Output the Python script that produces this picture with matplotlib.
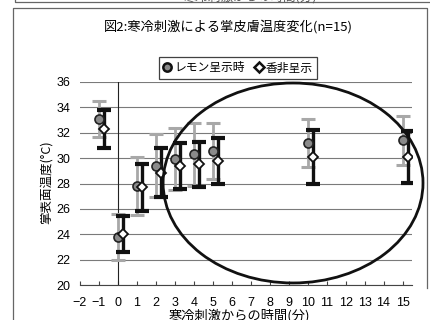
import matplotlib
matplotlib.use("Agg")
import matplotlib.pyplot as plt
from matplotlib.lines import Line2D
from matplotlib.patches import Ellipse

plt.rcParams['font.family'] = ['Noto Sans CJK JP', 'DejaVu Sans']

# minutes after cold stimulus
minutes = [-1, 0, 1, 2, 3, 4, 5, 10, 15]

# palm skin temperature, mean and SD
lemon_mean = [33.1, 23.8, 27.8, 29.4, 29.9, 30.3, 30.55, 31.2, 31.4]
lemon_sd = [1.4, 1.8, 2.3, 2.5, 2.45, 2.5, 2.2, 1.9, 1.95]
none_mean = [32.3, 24.0, 27.7, 28.85, 29.4, 29.5, 29.8, 30.1, 30.1]
none_sd = [1.5, 1.4, 1.85, 1.95, 1.8, 1.8, 1.8, 2.1, 2.05]

title = "図2:寒冷刺激による掌皮膚温度変化(n=15)"
xlabel = "寒冷刺激からの時間(分)"
ylabel = "掌表面温度(°C)"
legend_labels = ["レモン呈示時", "香非呈示"]

num_font = ['Liberation Sans Narrow', 'Liberation Sans', 'DejaVu Sans']

fig = plt.figure(figsize=(4.31, 3.2), dpi=100)
ax = fig.add_axes([80 / 431, 1 - 285 / 320, 332 / 431, 203 / 320])

shift = 0.28
x2 = [m + shift for m in minutes]

ax.errorbar(minutes, lemon_mean, yerr=lemon_sd, fmt='none', ecolor='#a8a8a8',
            elinewidth=2.0, capsize=5, capthick=2.2, zorder=3)
ax.errorbar(x2, none_mean, yerr=none_sd, fmt='none', ecolor='#111111',
            elinewidth=2.4, capsize=5, capthick=3.0, zorder=4)
ax.plot(minutes, lemon_mean, 'o', ms=6.5, mfc='#8a8a8a', mec='#222222',
        mew=1.2, zorder=5)
ax.plot(x2, none_mean, 'D', ms=5, mfc='white', mec='#111111', mew=1.3,
        zorder=6)

ax.set_xlim(-2, 15.5)
ax.set_ylim(20, 36)
ax.set_xticks(range(-2, 16))
ax.set_yticks(range(20, 37, 2))
ax.yaxis.grid(True, color='#7a7a7a', lw=0.8)
ax.set_axisbelow(True)
ax.axvline(0, color='#222222', lw=0.8, zorder=2)

for s in ['top', 'right', 'left']:
    ax.spines[s].set_visible(False)
ax.spines['bottom'].set_color('#444444')
ax.spines['bottom'].set_linewidth(0.8)

ax.tick_params(axis='y', length=0, pad=7, labelsize=9)
ax.tick_params(axis='x', direction='in', length=3, color='#444444',
               pad=9, labelsize=9)
for lab in ax.get_xticklabels() + ax.get_yticklabels():
    lab.set_fontfamily(num_font)
ax.set_xticklabels([str(t).replace('-', '−') for t in range(-2, 16)])

# circled region of the later readings
ell = Ellipse((9.23, 28.04), 13.7, 15.76, fill=False, ec='#111111', lw=2,
              clip_on=False, zorder=7)
ax.add_patch(ell)

fig.text(228 / 431, 1 - 27 / 320, title, ha='center', va='center',
         fontsize=9.5)
fig.text(46 / 431, 1 - 182 / 320, ylabel, ha='center', va='center',
         rotation=90, fontsize=9)
fig.text(239 / 431, 1 - 316 / 320, xlabel, ha='center', va='center',
         fontsize=9.5)

handles = [
    Line2D([], [], ls='none', marker='o', ms=6, mfc='#8a8a8a',
           mec='#111111', mew=1.8),
    Line2D([], [], ls='none', marker='D', ms=5, mfc='white',
           mec='#111111', mew=1.8),
]
leg = fig.legend(handles, legend_labels, loc='center', ncol=2,
                 bbox_to_anchor=(238 / 431, 1 - 68 / 320), fontsize=8.5,
                 frameon=True, fancybox=False, edgecolor='#111111',
                 handlelength=0.7, handletextpad=0.25, columnspacing=0.8,
                 borderpad=0.35, borderaxespad=0)
leg.get_frame().set_linewidth(0.9)

# chart frame and the edge of the box above it
fig.add_artist(Line2D([13 / 431, 13 / 431, 427 / 431, 427 / 431],
                      [0, 1 - 8 / 320, 1 - 8 / 320, 0.1],
                      color='#666666', lw=0.9))
fig.add_artist(Line2D([15 / 431, 15 / 431, 1.0],
                      [1.0, 1 - 2 / 320, 1 - 2 / 320],
                      color='#666666', lw=0.9))
fig.text(250 / 431, 1 + 3 / 320, xlabel, ha='center', va='center',
         fontsize=9, color='#555555')

fig.savefig("out.png", dpi=100)
